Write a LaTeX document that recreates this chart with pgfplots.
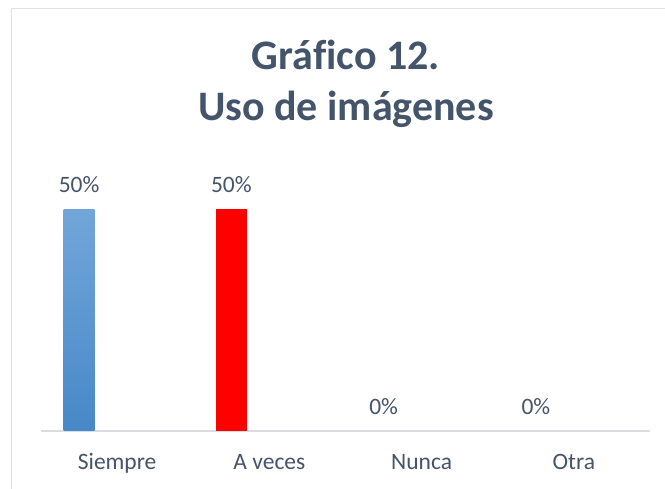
\documentclass[border=0pt]{standalone}
\usepackage{pgfplots}
\pgfplotsset{compat=1.18}
\usepackage{fontspec}
\setmainfont{Carlito}[Ligatures=NoCommon]

\definecolor{txt}{HTML}{44546A}
\definecolor{frame}{HTML}{DDE2E8}
\definecolor{axisln}{HTML}{D9DEE4}
\definecolor{bluetop}{HTML}{72A6DA}
\definecolor{bluebot}{HTML}{4788C8}

\begin{document}
\begin{tikzpicture}
\useasboundingbox (0,0) rectangle (665pt,489pt);

% chart frame (only left and top edges fall inside the picture)
\draw[frame, line width=1.5pt] (11.5pt,0pt) -- (11.5pt,480.5pt) -- (665pt,480.5pt);

% title
\node[font=\fontsize{42}{50}\selectfont\bfseries, text=txt, anchor=base] at (346pt,419pt) {Gráfico 12.};
\node[font=\fontsize{42}{50}\selectfont\bfseries, text=txt, anchor=base] at (346pt,368pt) {Uso de imágenes};

\begin{axis}[
    at={(41pt,58pt)}, anchor=south west,
    scale only axis,
    width=609pt, height=266pt,
    xmin=-0.5, xmax=3.5,
    ymin=0, ymax=0.6,
    axis y line=none,
    axis x line*=bottom,
    x axis line style={axisln, line width=1.5pt, -},
    xtick={0,1,2,3},
    xticklabels={Siempre, A veces, Nunca, Otra},
    major tick length=0pt,
    xticklabel style={font=\fontsize{23.5}{28}\selectfont, text=txt, anchor=base, yshift=-38.5pt},
    /pgf/number format/assume math mode=true,
    clip=false,
    point meta={y*100},
    nodes near coords={\pgfmathprintnumber[fixed,precision=0]{\pgfplotspointmeta}\%},
    every node near coord/.append style={font=\fontsize{23.5}{28}\selectfont, text=txt, anchor=base, inner sep=0pt, xshift=-38pt, yshift=16.5pt},
]

% Siempre
\addplot[ybar, bar width=31pt, bar shift=-38pt, draw=none, top color=bluetop, bottom color=bluebot]
    coordinates {(0,0.5)};
% A veces
\addplot[ybar, bar width=31pt, bar shift=-38pt, draw=none, fill=red]
    coordinates {(1,0.5)};
% Nunca, Otra
\addplot[ybar, bar width=31pt, bar shift=-38pt, draw=none, fill=none]
    coordinates {(2,0) (3,0)};

\end{axis}
\end{tikzpicture}
\end{document}
